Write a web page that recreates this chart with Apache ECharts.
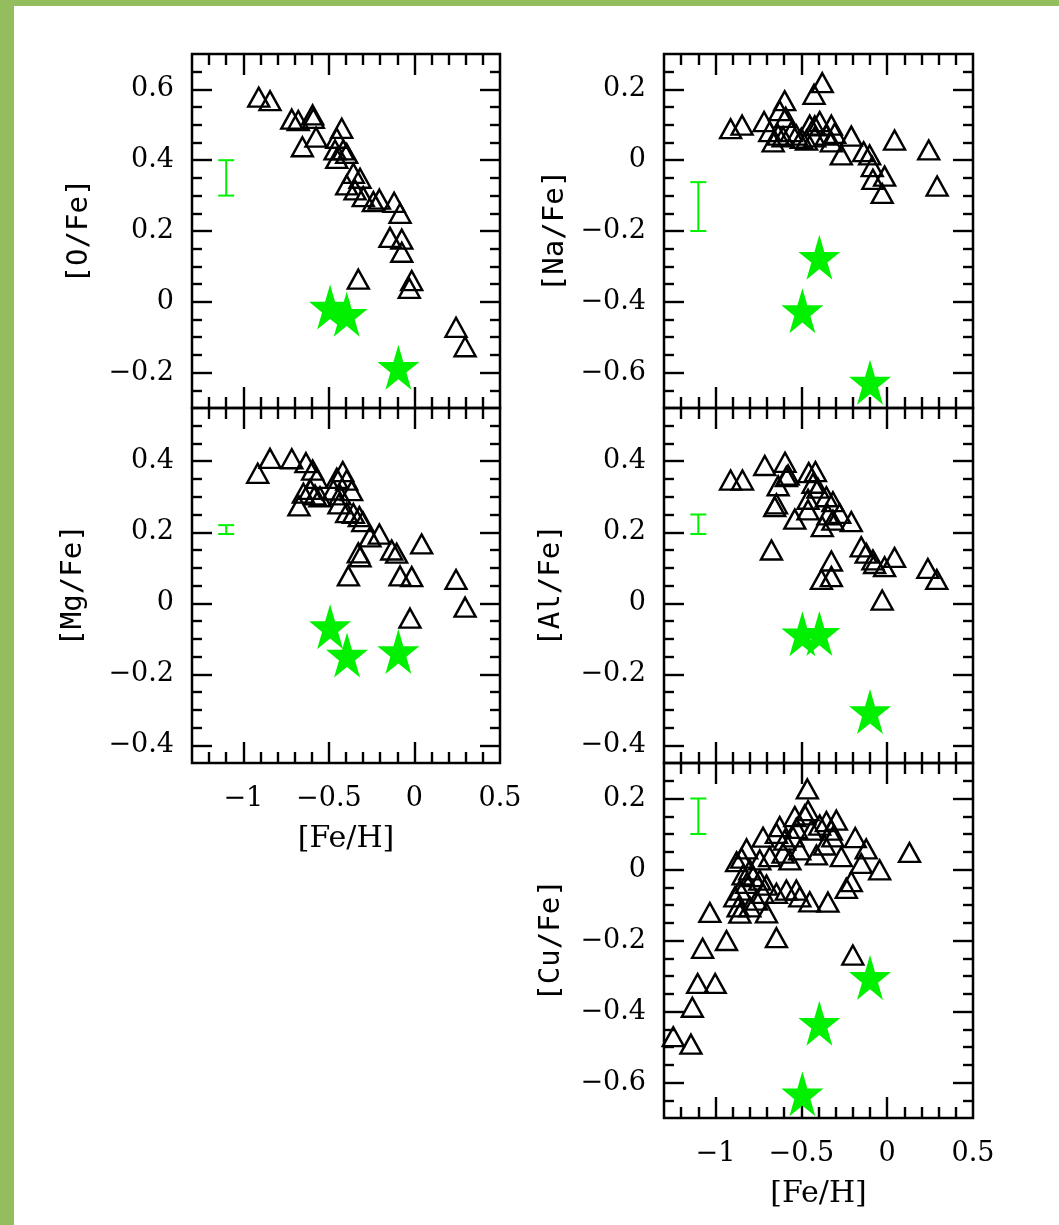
<!DOCTYPE html>
<html>
<head>
<meta charset="utf-8">
<script src="https://cdn.jsdelivr.net/npm/echarts@6/dist/echarts.min.js"></script>
<style>
  html, body { margin: 0; padding: 0; background: #fff; }
  #chart { position: absolute; left: 0; top: 0; width: 1059px; height: 1225px; }
  .band { position: absolute; background: #94be5e; }
</style>
</head>
<body>
<div id="chart"></div>
<div class="band" style="left:0;top:0;width:1059px;height:6px"></div>
<div class="band" style="left:0;top:0;width:14px;height:1225px"></div>
<script>
// ---- [Fe/H] axis ----
const feHRange = [-1.3, 0.5];
const feHTicks = [-1, -0.5, 0, 0.5];

// ---- [O/Fe] ----
const oxygenRange = [-0.3, 0.7];
const oxygenTicks = [-0.2, 0, 0.2, 0.4, 0.6];
const oxygenTri = [
  [-0.91, 0.578], [-0.844, 0.568], [-0.717, 0.516], [-0.679, 0.512], [-0.595, 0.528],
  [-0.591, 0.518], [-0.575, 0.465], [-0.655, 0.438], [-0.425, 0.49], [-0.454, 0.462],
  [-0.464, 0.429], [-0.416, 0.429], [-0.396, 0.419], [-0.454, 0.405], [-0.357, 0.363],
  [-0.318, 0.349], [-0.396, 0.33], [-0.347, 0.316], [-0.299, 0.297], [-0.205, 0.29],
  [-0.24, 0.283], [-0.119, 0.281], [-0.084, 0.25], [-0.143, 0.182], [-0.074, 0.177],
  [-0.074, 0.14], [-0.328, 0.064], [-0.016, 0.06], [-0.03, 0.038], [0.243, -0.072],
  [0.296, -0.127]
];
const oxygenStars = [[-0.493, -0.015], [-0.396, -0.035], [-0.094, -0.185]];
const oxygenErr = [[-1.1, 0.30, 0.40]];

// ---- [Na/Fe] ----
const sodiumRange = [-0.7, 0.3];
const sodiumTicks = [-0.6, -0.4, -0.2, 0, 0.2];
const sodiumTri = [
  [-0.912, 0.089], [-0.845, 0.099], [-0.717, 0.109], [-0.597, 0.168], [-0.626, 0.14],
  [-0.591, 0.121], [-0.664, 0.052], [-0.635, 0.071], [-0.606, 0.066], [-0.558, 0.081],
  [-0.529, 0.071], [-0.451, 0.099], [-0.422, 0.097], [-0.393, 0.109], [-0.422, 0.066],
  [-0.325, 0.099], [-0.354, 0.071], [-0.306, 0.076], [-0.325, 0.052], [-0.378, 0.219],
  [-0.426, 0.186], [-0.267, 0.015], [-0.209, 0.068], [-0.137, 0.024], [-0.102, 0.015],
  [-0.087, -0.018], [-0.083, -0.054], [-0.015, -0.045], [-0.029, -0.094], [0.043, 0.057],
  [0.242, 0.029], [0.291, -0.073], [-0.5, 0.062], [-0.684, 0.081], [-0.47, 0.057]
];
const sodiumStars = [[-0.395, -0.274], [-0.494, -0.425], [-0.1, -0.627]];
const sodiumErr = [[-1.1, -0.2, -0.062]];

// ---- [Mg/Fe] ----
const magnesiumRange = [-0.45, 0.55];
const magnesiumTicks = [-0.4, -0.2, 0, 0.2, 0.4];
const magnesiumTri = [
  [-0.916, 0.366], [-0.844, 0.408], [-0.717, 0.407], [-0.634, 0.396], [-0.595, 0.375],
  [-0.571, 0.352], [-0.649, 0.31], [-0.675, 0.274], [-0.61, 0.321], [-0.581, 0.305],
  [-0.552, 0.3], [-0.454, 0.352], [-0.419, 0.371], [-0.396, 0.347], [-0.474, 0.319],
  [-0.435, 0.305], [-0.367, 0.317], [-0.441, 0.28], [-0.396, 0.255], [-0.357, 0.253],
  [-0.322, 0.244], [-0.302, 0.23], [-0.26, 0.187], [-0.205, 0.195], [-0.328, 0.142],
  [-0.318, 0.131], [-0.386, 0.077], [-0.133, 0.15], [-0.104, 0.141], [-0.084, 0.077],
  [-0.016, 0.075], [0.042, 0.167], [0.243, 0.067], [0.296, -0.011], [-0.026, -0.042]
];
const magnesiumStars = [[-0.493, -0.066], [-0.394, -0.146], [-0.094, -0.136]];
const magnesiumErr = [[-1.1, 0.195, 0.22]];

// ---- [Al/Fe] ----
const aluminiumRange = [-0.45, 0.55];
const aluminiumTicks = [-0.4, -0.2, 0, 0.2, 0.4];
const aluminiumTri = [
  [-0.912, 0.347], [-0.843, 0.347], [-0.713, 0.388], [-0.595, 0.397], [-0.635, 0.331],
  [-0.587, 0.357], [-0.577, 0.361], [-0.645, 0.28], [-0.655, 0.272], [-0.538, 0.237],
  [-0.457, 0.368], [-0.418, 0.371], [-0.432, 0.338], [-0.403, 0.324], [-0.461, 0.293],
  [-0.461, 0.263], [-0.354, 0.3], [-0.316, 0.286], [-0.345, 0.249], [-0.378, 0.216],
  [-0.277, 0.253], [-0.316, 0.234], [-0.209, 0.23], [-0.674, 0.15], [-0.325, 0.119],
  [-0.383, 0.067], [-0.325, 0.075], [-0.151, 0.159], [-0.122, 0.141], [-0.083, 0.122],
  [-0.073, 0.112], [-0.015, 0.103], [0.043, 0.129], [0.237, 0.098], [0.289, 0.067],
  [-0.029, 0.009]
];
const aluminiumStars = [[-0.494, -0.086], [-0.395, -0.085], [-0.1, -0.305]];
const aluminiumErr = [[-1.1, 0.195, 0.25]];

// ---- [Cu/Fe] ----
const copperRange = [-0.7, 0.3];
const copperTicks = [-0.6, -0.4, -0.2, 0, 0.2];
const copperTri = [
  [-0.465, 0.227], [-0.461, 0.166], [-0.538, 0.149], [-0.48, 0.154], [-0.626, 0.121],
  [-0.723, 0.091], [-0.819, 0.058], [-0.848, 0.032], [-0.877, 0.022], [-0.645, 0.102],
  [-0.597, 0.083], [-0.548, 0.092], [-0.529, 0.116], [-0.441, 0.111], [-0.393, 0.125],
  [-0.354, 0.135], [-0.296, 0.139], [-0.325, 0.111], [-0.316, 0.092], [-0.364, 0.069],
  [-0.412, 0.041], [-0.267, 0.036], [-0.186, 0.09], [-0.122, 0.058], [-0.151, 0.017],
  [-0.044, -0.001], [0.13, 0.048], [-0.209, -0.034], [-0.238, -0.053], [-0.345, -0.092],
  [-0.451, -0.091], [-0.509, -0.077], [-0.529, -0.058], [-0.587, -0.058], [-0.645, -0.067],
  [-0.703, -0.044], [-0.742, -0.03], [-0.781, -0.02], [-0.819, -0.039], [-0.858, -0.058],
  [-0.887, -0.077], [-0.868, -0.105], [-0.858, -0.123], [-0.8, -0.105], [-0.761, -0.086],
  [-0.723, -0.067], [-0.703, -0.122], [-0.742, 0.027], [-0.684, 0.036], [-0.606, 0.046],
  [-0.567, 0.027], [-0.509, 0.055], [-0.8, -0.001], [-0.839, -0.015], [-1.033, -0.121],
  [-0.936, -0.2], [-1.075, -0.222], [-0.645, -0.192], [-1.104, -0.321], [-1.002, -0.321],
  [-1.135, -0.388], [-1.246, -0.471], [-1.143, -0.492], [-0.2, -0.241]
];
const copperStars = [[-0.1, -0.304], [-0.395, -0.433], [-0.494, -0.632]];
const copperErr = [[-1.1, 0.1, 0.2]];

// ---- panel layout ----
const GREEN = '#00f000';
const STAR = 'path://M0,-1 L0.2245,-0.309 L0.951,-0.309 L0.363,0.118 L0.588,0.809 L0,0.382 L-0.588,0.809 L-0.363,0.118 L-0.951,-0.309 L-0.2245,-0.309 Z';
const TICK_FONT = 'DejaVu Serif';
const NAME_FONT = 'DejaVu Sans Mono';

const panels = [
  { title: '[O/Fe]',  tri: oxygenTri,    stars: oxygenStars,    err: oxygenErr,    range: oxygenRange,    ticks: oxygenTicks,    rect: [192, 54, 308, 354], xLabels: false, nameGap: 98 },
  { title: '[Na/Fe]', tri: sodiumTri,    stars: sodiumStars,    err: sodiumErr,    range: sodiumRange,    ticks: sodiumTicks,    rect: [664, 54, 309, 354], xLabels: false, nameGap: 94 },
  { title: '[Mg/Fe]', tri: magnesiumTri, stars: magnesiumStars, err: magnesiumErr, range: magnesiumRange, ticks: magnesiumTicks, rect: [192, 408, 308, 355], xLabels: true, nameGap: 104 },
  { title: '[Al/Fe]', tri: aluminiumTri, stars: aluminiumStars, err: aluminiumErr, range: aluminiumRange, ticks: aluminiumTicks, rect: [664, 408, 309, 355], xLabels: false, nameGap: 98 },
  { title: '[Cu/Fe]', tri: copperTri,    stars: copperStars,    err: copperErr,    range: copperRange,    ticks: copperTicks,    rect: [664, 763, 309, 355], xLabels: true, nameGap: 98 }
];

const r2 = v => Math.round(v * 1000) / 1000;
function minorTicks(lo, hi, step, majors) {
  const out = [];
  const k0 = Math.ceil(lo / step - 1e-6), k1 = Math.floor(hi / step + 1e-6);
  for (let k = k0; k <= k1; k++) {
    const v = r2(k * step);
    if (Math.abs(v - lo) < 1e-6 || Math.abs(v - hi) < 1e-6) continue;
    if (majors.some(m => Math.abs(m - v) < 1e-6)) continue;
    out.push(v);
  }
  return out;
}
const fmt = v => {
  const a = r2(Math.abs(v));
  if (a === 0) return '0';
  return (v < 0 ? '\u2212' : '') + String(a);
};

const tickStyle = { color: '#000', width: 2.4 };
const hiddenLine = { show: false, onZero: false };
const grids = [], xAxes = [], yAxes = [], series = [];

panels.forEach((p, gi) => {
  const [left, top, width, height] = p.rect;
  grids.push({
    left, top, width, height, show: true, borderColor: '#000', borderWidth: 2.5,
    backgroundColor: 'transparent', containLabel: false, outerBoundsMode: 'none'
  });

  const xMajor = feHTicks.filter(v => v > feHRange[0] + 1e-6 && v < feHRange[1] - 1e-6);
  const xMinor = minorTicks(feHRange[0], feHRange[1], 0.1, feHTicks);
  const yMajor = p.ticks;
  const yMinor = minorTicks(p.range[0], p.range[1], 0.05, p.ticks);

  const xBase = { type: 'value', gridIndex: gi, min: feHRange[0], max: feHRange[1],
    axisLine: hiddenLine, splitLine: { show: false }, axisLabel: { show: false } };
  const yBase = { type: 'value', gridIndex: gi, min: p.range[0], max: p.range[1],
    axisLine: hiddenLine, splitLine: { show: false }, axisLabel: { show: false } };

  ['bottom', 'top'].forEach(pos => {
    const main = { ...xBase, position: pos,
      axisTick: { show: true, inside: true, length: 21, lineStyle: tickStyle, customValues: xMajor } };
    if (pos === 'bottom' && p.xLabels) {
      main.axisLabel = { show: true, customValues: feHTicks, formatter: fmt, margin: 22,
        fontFamily: TICK_FONT, fontSize: 27, color: '#000' };
      main.name = '[Fe/H]';
      main.nameLocation = 'middle';
      main.nameGap = 61;
      main.nameTextStyle = { fontFamily: TICK_FONT, fontSize: 30, color: '#000' };
    }
    xAxes.push(main);
    xAxes.push({ ...xBase, position: pos,
      axisTick: { show: true, inside: true, length: 11, lineStyle: tickStyle, customValues: xMinor } });
  });

  ['left', 'right'].forEach(pos => {
    const main = { ...yBase, position: pos,
      axisTick: { show: true, inside: true, length: 20, lineStyle: tickStyle, customValues: yMajor } };
    if (pos === 'left') {
      main.axisLabel = { show: true, customValues: p.ticks, formatter: fmt, margin: 18,
        fontFamily: TICK_FONT, fontSize: 27, color: '#000' };
      main.name = p.title;
      main.nameLocation = 'middle';
      main.nameGap = p.nameGap;
      main.nameTextStyle = { fontFamily: NAME_FONT, fontSize: 29, color: '#000' };
    }
    yAxes.push(main);
    yAxes.push({ ...yBase, position: pos,
      axisTick: { show: true, inside: true, length: 10, lineStyle: tickStyle, customValues: yMinor } });
  });

  const xi = gi * 4, yi = gi * 4;
  series.push({
    type: 'scatter', xAxisIndex: xi, yAxisIndex: yi, data: p.tri, clip: false,
    symbol: 'triangle', symbolSize: [21, 19], z: 2,
    itemStyle: { color: 'rgba(0,0,0,0)', borderColor: '#000', borderWidth: 2.4, opacity: 1 },
    emphasis: { disabled: true }
  });
  series.push({
    type: 'scatter', xAxisIndex: xi, yAxisIndex: yi, data: p.stars, clip: false,
    symbol: STAR, symbolSize: [42, 45], z: 3,
    itemStyle: { color: GREEN, borderWidth: 0, opacity: 1 },
    emphasis: { disabled: true }
  });
  series.push({
    type: 'custom', xAxisIndex: xi, yAxisIndex: yi, data: p.err, z: 3,
    encode: { x: 0, y: [1, 2] },
    renderItem: (params, api) => {
      const x = api.value(0), lo = api.value(1), hi = api.value(2);
      const a = api.coord([x, lo]), b = api.coord([x, hi]);
      const w = 8;
      const style = { stroke: GREEN, lineWidth: 2, fill: null };
      return {
        type: 'group',
        children: [
          { type: 'line', shape: { x1: a[0], y1: a[1], x2: b[0], y2: b[1] }, style },
          { type: 'line', shape: { x1: a[0] - w, y1: a[1], x2: a[0] + w, y2: a[1] }, style },
          { type: 'line', shape: { x1: b[0] - w, y1: b[1], x2: b[0] + w, y2: b[1] }, style }
        ]
      };
    }
  });
});

const chart = echarts.init(document.getElementById('chart'), null, { renderer: 'canvas' });
chart.setOption({
  animation: false,
  backgroundColor: '#fff',
  grid: grids,
  xAxis: xAxes,
  yAxis: yAxes,
  series
});
</script>
</body>
</html>
